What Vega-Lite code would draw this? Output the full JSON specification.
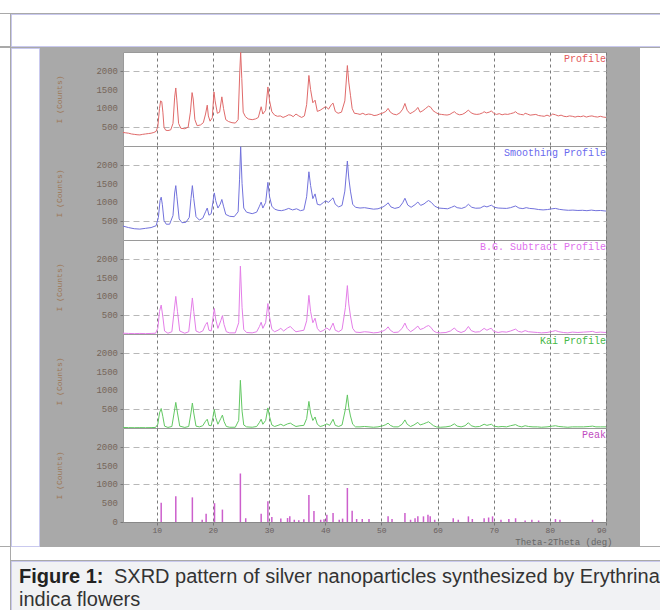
{
  "$schema": "https://vega.github.io/schema/vega-lite/v6.json",
  "background": "#a9a9a9",
  "padding": 0,
  "spacing": 0,
  "config": {
    "view": {"stroke": null},
    "concat": {"spacing": 0},
    "axis": {
      "labelFont": "Liberation Mono", "labelFontSize": 9, "labelColor": "#76665a",
      "titleFont": "Liberation Mono", "titleFontSize": 8, "titleFontWeight": "normal", "titleColor": "#9c7552"
    }
  },
  "datasets": {
    "ticks4": [{"v":500},{"v":1000},{"v":1500},{"v":2000}],
    "ticks5": [{"v":0},{"v":500},{"v":1000},{"v":1500},{"v":2000}],
    "profile": [
      {"t":4.0,"c":360},{"t":4.5,"c":350},{"t":5.0,"c":340},{"t":5.5,"c":320},{"t":6.0,"c":310},{"t":6.5,"c":300},{"t":7.0,"c":295},{"t":7.5,"c":310},{"t":8.0,"c":320},{"t":8.5,"c":330},{"t":9.0,"c":340},{"t":9.5,"c":360},{"t":9.9,"c":390},
      {"t":10.2,"c":520},{"t":10.5,"c":1000},{"t":10.7,"c":1200},{"t":10.9,"c":1180},{"t":11.1,"c":900},{"t":11.3,"c":500},{"t":11.6,"c":420},{"t":12.0,"c":410},{"t":12.5,"c":430},{"t":12.9,"c":600},{"t":13.2,"c":1300},{"t":13.4,"c":1543},{"t":13.6,"c":1200},{"t":13.9,"c":600},{"t":14.3,"c":470},{"t":15.0,"c":460},{"t":15.6,"c":500},{"t":16.0,"c":900},{"t":16.3,"c":1420},{"t":16.5,"c":1250},{"t":16.8,"c":700},{"t":17.2,"c":540},{"t":17.8,"c":560},{"t":18.3,"c":620},{"t":18.7,"c":850},{"t":19.0,"c":1086},{"t":19.2,"c":800},{"t":19.5,"c":660},{"t":19.9,"c":750},
      {"t":20.2,"c":1438},{"t":20.4,"c":1200},{"t":20.8,"c":870},{"t":21.2,"c":900},{"t":21.6,"c":1307},{"t":21.9,"c":1000},{"t":22.3,"c":700},{"t":22.8,"c":650},{"t":23.4,"c":620},{"t":24.0,"c":610},{"t":24.5,"c":700},{"t":24.8,"c":2000},{"t":24.95,"c":2490},{"t":25.15,"c":1800},{"t":25.4,"c":900},{"t":25.8,"c":780},{"t":26.3,"c":720},{"t":27.0,"c":700},{"t":27.6,"c":720},{"t":28.1,"c":760},{"t":28.6,"c":1044},{"t":28.9,"c":850},{"t":29.4,"c":950},{"t":29.8,"c":1570},
      {"t":30.1,"c":1200},{"t":30.5,"c":912},{"t":31.0,"c":820},{"t":31.5,"c":790},{"t":32.0,"c":800},{"t":32.5,"c":760},{"t":33.0,"c":790},{"t":33.5,"c":830},{"t":33.9,"c":820},{"t":34.3,"c":780},{"t":34.8,"c":850},{"t":35.3,"c":800},{"t":35.8,"c":760},{"t":36.3,"c":800},{"t":36.7,"c":1100},{"t":37.1,"c":1876},{"t":37.4,"c":1500},{"t":37.8,"c":1150},{"t":38.2,"c":1218},{"t":38.6,"c":920},{"t":39.1,"c":950},{"t":39.6,"c":1000},
      {"t":40.1,"c":1050},{"t":40.6,"c":980},{"t":41.1,"c":1100},{"t":41.4,"c":1140},{"t":41.8,"c":920},{"t":42.3,"c":870},{"t":42.9,"c":900},{"t":43.5,"c":1200},{"t":43.95,"c":2140},{"t":44.2,"c":1700},{"t":44.5,"c":1350},{"t":44.8,"c":1000},{"t":45.2,"c":870},{"t":45.7,"c":860},{"t":46.2,"c":840},{"t":46.7,"c":870},{"t":47.2,"c":830},{"t":47.7,"c":850},{"t":48.2,"c":840},{"t":48.7,"c":810},{"t":49.2,"c":820},{"t":49.7,"c":850},
      {"t":50.3,"c":880},{"t":50.8,"c":920},{"t":51.2,"c":1000},{"t":51.6,"c":900},{"t":52.1,"c":850},{"t":52.7,"c":830},{"t":53.3,"c":880},{"t":53.8,"c":980},{"t":54.2,"c":1131},{"t":54.6,"c":950},{"t":55.1,"c":860},{"t":55.6,"c":900},{"t":56.1,"c":950},{"t":56.5,"c":1026},{"t":56.9,"c":900},{"t":57.4,"c":940},{"t":57.9,"c":1000},{"t":58.4,"c":1060},{"t":58.8,"c":1030},{"t":59.2,"c":940},{"t":59.7,"c":890},
      {"t":60.2,"c":850},{"t":60.7,"c":840},{"t":61.2,"c":830},{"t":61.7,"c":823},{"t":62.2,"c":840},{"t":62.6,"c":880},{"t":63.0,"c":912},{"t":63.4,"c":860},{"t":63.9,"c":830},{"t":64.4,"c":840},{"t":64.9,"c":880},{"t":65.5,"c":955},{"t":66.0,"c":880},{"t":66.5,"c":850},{"t":67.0,"c":840},{"t":67.5,"c":850},{"t":68.0,"c":880},{"t":68.3,"c":912},{"t":68.7,"c":880},{"t":69.2,"c":900},{"t":69.6,"c":935},
      {"t":70.0,"c":870},{"t":70.5,"c":840},{"t":71.0,"c":860},{"t":71.5,"c":830},{"t":72.0,"c":850},{"t":72.5,"c":840},{"t":73.0,"c":860},{"t":73.5,"c":880},{"t":73.9,"c":912},{"t":74.3,"c":860},{"t":74.8,"c":840},{"t":75.3,"c":830},{"t":75.6,"c":870},{"t":76.0,"c":850},{"t":76.5,"c":820},{"t":77.0,"c":830},{"t":77.5,"c":840},{"t":78.0,"c":810},{"t":78.5,"c":800},{"t":79.0,"c":790},{"t":79.5,"c":820},
      {"t":80.0,"c":790},{"t":80.5,"c":850},{"t":81.0,"c":830},{"t":81.5,"c":800},{"t":82.0,"c":820},{"t":82.5,"c":790},{"t":83.0,"c":780},{"t":83.5,"c":800},{"t":84.0,"c":790},{"t":84.5,"c":770},{"t":85.0,"c":790},{"t":85.5,"c":780},{"t":86.0,"c":800},{"t":86.5,"c":770},{"t":87.0,"c":790},{"t":87.5,"c":800},{"t":88.0,"c":780},{"t":88.5,"c":770},{"t":89.0,"c":790},{"t":89.5,"c":770},{"t":90.0,"c":760}
    ],
    "smooth": [
      {"t":4.0,"c":370},{"t":5.0,"c":330},{"t":6.0,"c":300},{"t":7.0,"c":290},{"t":8.0,"c":310},{"t":9.0,"c":330},{"t":9.9,"c":380},{"t":10.3,"c":600},{"t":10.6,"c":1050},{"t":10.8,"c":1139},{"t":11.0,"c":950},{"t":11.3,"c":520},{"t":11.7,"c":420},{"t":12.3,"c":420},{"t":12.9,"c":650},{"t":13.2,"c":1250},{"t":13.4,"c":1446},{"t":13.6,"c":1150},{"t":14.0,"c":560},{"t":14.5,"c":460},{"t":15.2,"c":470},{"t":15.8,"c":600},{"t":16.1,"c":1100},{"t":16.35,"c":1446},{"t":16.6,"c":1100},{"t":17.0,"c":620},{"t":17.6,"c":530},{"t":18.2,"c":580},{"t":18.7,"c":750},{"t":19.0,"c":850},{"t":19.3,"c":660},{"t":19.7,"c":700},
      {"t":20.0,"c":1000},{"t":20.26,"c":1252},{"t":20.5,"c":1050},{"t":20.9,"c":850},{"t":21.3,"c":950},{"t":21.6,"c":1078},{"t":21.9,"c":900},{"t":22.3,"c":680},{"t":23.0,"c":630},{"t":23.8,"c":620},{"t":24.5,"c":750},{"t":24.75,"c":1600},{"t":24.95,"c":2480},{"t":25.2,"c":1500},{"t":25.5,"c":850},{"t":26.0,"c":740},{"t":27.0,"c":700},{"t":27.8,"c":740},{"t":28.3,"c":900},{"t":28.6,"c":1007},{"t":28.9,"c":850},{"t":29.4,"c":1000},{"t":29.8,"c":1533},
      {"t":30.1,"c":1150},{"t":30.5,"c":900},{"t":31.0,"c":820},{"t":31.6,"c":790},{"t":32.2,"c":780},{"t":32.8,"c":800},{"t":33.5,"c":840},{"t":34.2,"c":800},{"t":34.9,"c":830},{"t":35.6,"c":780},{"t":36.2,"c":800},{"t":36.7,"c":1150},{"t":37.1,"c":1814},{"t":37.4,"c":1450},{"t":37.8,"c":1100},{"t":38.2,"c":1226},{"t":38.6,"c":950},{"t":39.1,"c":930},{"t":39.7,"c":1000},
      {"t":40.1,"c":1040},{"t":40.6,"c":1000},{"t":41.1,"c":1080},{"t":41.4,"c":1120},{"t":41.8,"c":950},{"t":42.4,"c":880},{"t":43.0,"c":920},{"t":43.5,"c":1300},{"t":43.95,"c":2100},{"t":44.2,"c":1650},{"t":44.5,"c":1300},{"t":44.9,"c":950},{"t":45.4,"c":870},{"t":46.2,"c":850},{"t":47.0,"c":860},{"t":47.8,"c":840},{"t":48.6,"c":820},{"t":49.4,"c":830},
      {"t":50.3,"c":880},{"t":50.8,"c":930},{"t":51.2,"c":990},{"t":51.7,"c":880},{"t":52.4,"c":840},{"t":53.2,"c":870},{"t":53.8,"c":990},{"t":54.2,"c":1110},{"t":54.7,"c":930},{"t":55.3,"c":870},{"t":56.0,"c":940},{"t":56.5,"c":1010},{"t":57.0,"c":920},{"t":57.6,"c":960},{"t":58.1,"c":1020},{"t":58.4,"c":1050},{"t":58.9,"c":1000},{"t":59.5,"c":900},
      {"t":60.2,"c":850},{"t":61.0,"c":840},{"t":61.8,"c":830},{"t":62.5,"c":870},{"t":63.0,"c":905},{"t":63.5,"c":860},{"t":64.3,"c":840},{"t":65.0,"c":880},{"t":65.5,"c":950},{"t":66.1,"c":870},{"t":66.8,"c":845},{"t":67.6,"c":850},{"t":68.3,"c":905},{"t":68.8,"c":880},{"t":69.3,"c":910},{"t":69.6,"c":925},
      {"t":70.1,"c":870},{"t":70.8,"c":850},{"t":71.5,"c":845},{"t":72.3,"c":840},{"t":73.0,"c":860},{"t":73.9,"c":905},{"t":74.5,"c":850},{"t":75.2,"c":835},{"t":75.8,"c":860},{"t":76.4,"c":840},{"t":77.2,"c":830},{"t":78.0,"c":810},{"t":78.8,"c":800},{"t":79.6,"c":810},
      {"t":80.4,"c":830},{"t":81.0,"c":840},{"t":81.7,"c":815},{"t":82.5,"c":800},{"t":83.3,"c":790},{"t":84.1,"c":795},{"t":85.0,"c":785},{"t":85.8,"c":790},{"t":86.6,"c":780},{"t":87.4,"c":795},{"t":88.2,"c":780},{"t":89.0,"c":785},{"t":90.0,"c":770}
    ],
    "bg": [
      {"t":4.0,"c":20},{"t":5.0,"c":15},{"t":6.0,"c":10},{"t":7.0,"c":15},{"t":8.0,"c":10},{"t":9.0,"c":15},{"t":9.8,"c":20},{"t":10.2,"c":150},{"t":10.5,"c":600},{"t":10.8,"c":770},{"t":11.1,"c":450},{"t":11.4,"c":80},{"t":12.0,"c":20},{"t":12.7,"c":60},{"t":13.1,"c":600},{"t":13.4,"c":1000},{"t":13.7,"c":600},{"t":14.1,"c":80},{"t":15.0,"c":20},{"t":15.7,"c":60},{"t":16.1,"c":600},{"t":16.35,"c":958},{"t":16.6,"c":600},{"t":17.0,"c":80},{"t":17.6,"c":40},{"t":18.2,"c":80},{"t":18.7,"c":250},{"t":19.0,"c":310},{"t":19.3,"c":100},{"t":19.7,"c":80},
      {"t":20.0,"c":400},{"t":20.26,"c":680},{"t":20.5,"c":400},{"t":20.9,"c":150},{"t":21.4,"c":350},{"t":21.7,"c":490},{"t":22.0,"c":250},{"t":22.4,"c":60},{"t":23.0,"c":30},{"t":24.0,"c":30},{"t":24.6,"c":300},{"t":24.9,"c":1805},{"t":25.2,"c":700},{"t":25.5,"c":120},{"t":26.0,"c":40},{"t":27.0,"c":30},{"t":27.8,"c":60},{"t":28.3,"c":200},{"t":28.6,"c":310},{"t":28.9,"c":150},{"t":29.4,"c":300},{"t":29.8,"c":810},
      {"t":30.1,"c":450},{"t":30.5,"c":120},{"t":31.0,"c":60},{"t":31.6,"c":100},{"t":32.1,"c":150},{"t":32.6,"c":80},{"t":33.3,"c":160},{"t":33.8,"c":200},{"t":34.3,"c":120},{"t":34.8,"c":60},{"t":35.5,"c":80},{"t":36.2,"c":100},{"t":36.7,"c":350},{"t":37.1,"c":1028},{"t":37.4,"c":600},{"t":37.8,"c":300},{"t":38.2,"c":420},{"t":38.6,"c":150},{"t":39.1,"c":60},{"t":39.6,"c":90},
      {"t":40.3,"c":160},{"t":40.8,"c":100},{"t":41.4,"c":290},{"t":41.8,"c":100},{"t":42.4,"c":60},{"t":43.0,"c":120},{"t":43.6,"c":700},{"t":43.95,"c":1287},{"t":44.2,"c":800},{"t":44.5,"c":480},{"t":44.9,"c":150},{"t":45.4,"c":50},{"t":46.2,"c":40},{"t":47.0,"c":60},{"t":47.8,"c":50},{"t":48.6,"c":30},{"t":49.4,"c":40},
      {"t":50.3,"c":80},{"t":50.8,"c":120},{"t":51.2,"c":190},{"t":51.6,"c":100},{"t":52.2,"c":40},{"t":53.0,"c":50},{"t":53.7,"c":150},{"t":54.2,"c":290},{"t":54.6,"c":150},{"t":55.2,"c":60},{"t":55.8,"c":120},{"t":56.5,"c":210},{"t":56.9,"c":120},{"t":57.5,"c":150},{"t":58.0,"c":200},{"t":58.4,"c":225},{"t":58.8,"c":180},{"t":59.3,"c":80},{"t":59.8,"c":40},
      {"t":60.5,"c":30},{"t":61.5,"c":40},{"t":62.3,"c":80},{"t":63.0,"c":160},{"t":63.5,"c":80},{"t":64.2,"c":40},{"t":64.9,"c":80},{"t":65.5,"c":200},{"t":66.0,"c":90},{"t":66.7,"c":50},{"t":67.5,"c":60},{"t":68.3,"c":150},{"t":68.8,"c":100},{"t":69.3,"c":140},{"t":69.6,"c":150},
      {"t":70.0,"c":70},{"t":70.8,"c":40},{"t":71.5,"c":60},{"t":72.3,"c":50},{"t":73.0,"c":80},{"t":73.9,"c":130},{"t":74.4,"c":70},{"t":75.0,"c":50},{"t":75.6,"c":90},{"t":76.2,"c":60},{"t":77.0,"c":50},{"t":77.8,"c":40},{"t":78.5,"c":30},{"t":79.5,"c":40},
      {"t":80.5,"c":70},{"t":81.0,"c":90},{"t":81.6,"c":60},{"t":82.4,"c":40},{"t":83.2,"c":30},{"t":84.0,"c":50},{"t":85.0,"c":40},{"t":86.0,"c":50},{"t":87.0,"c":60},{"t":87.6,"c":70},{"t":88.2,"c":40},{"t":89.0,"c":50},{"t":90.0,"c":40}
    ],
    "kai": [
      {"t":4.0,"c":15},{"t":5.0,"c":10},{"t":6.0,"c":8},{"t":7.0,"c":10},{"t":8.0,"c":8},{"t":9.0,"c":10},{"t":9.8,"c":15},{"t":10.2,"c":100},{"t":10.5,"c":400},{"t":10.8,"c":518},{"t":11.1,"c":300},{"t":11.4,"c":50},{"t":12.0,"c":15},{"t":12.7,"c":40},{"t":13.1,"c":400},{"t":13.4,"c":681},{"t":13.7,"c":400},{"t":14.1,"c":50},{"t":15.0,"c":15},{"t":15.7,"c":40},{"t":16.1,"c":400},{"t":16.35,"c":663},{"t":16.6,"c":400},{"t":17.0,"c":50},{"t":17.6,"c":30},{"t":18.2,"c":60},{"t":18.7,"c":180},{"t":19.0,"c":233},{"t":19.3,"c":70},{"t":19.7,"c":60},
      {"t":20.0,"c":280},{"t":20.26,"c":492},{"t":20.5,"c":280},{"t":20.9,"c":100},{"t":21.4,"c":250},{"t":21.7,"c":344},{"t":22.0,"c":170},{"t":22.4,"c":40},{"t":23.0,"c":20},{"t":24.0,"c":20},{"t":24.6,"c":200},{"t":24.9,"c":1269},{"t":25.2,"c":450},{"t":25.5,"c":80},{"t":26.0,"c":30},{"t":27.0,"c":20},{"t":27.8,"c":40},{"t":28.3,"c":150},{"t":28.6,"c":233},{"t":28.9,"c":100},{"t":29.4,"c":200},{"t":29.8,"c":534},
      {"t":30.1,"c":300},{"t":30.5,"c":80},{"t":31.0,"c":40},{"t":31.6,"c":70},{"t":32.1,"c":100},{"t":32.6,"c":60},{"t":33.3,"c":110},{"t":33.8,"c":130},{"t":34.3,"c":80},{"t":34.8,"c":40},{"t":35.5,"c":60},{"t":36.2,"c":70},{"t":36.7,"c":250},{"t":37.1,"c":707},{"t":37.4,"c":400},{"t":37.8,"c":200},{"t":38.2,"c":293},{"t":38.6,"c":100},{"t":39.1,"c":40},{"t":39.6,"c":60},
      {"t":40.3,"c":110},{"t":40.8,"c":70},{"t":41.4,"c":233},{"t":41.8,"c":70},{"t":42.4,"c":40},{"t":43.0,"c":80},{"t":43.6,"c":500},{"t":43.95,"c":880},{"t":44.2,"c":550},{"t":44.5,"c":320},{"t":44.9,"c":100},{"t":45.4,"c":30},{"t":46.2,"c":30},{"t":47.0,"c":40},{"t":47.8,"c":30},{"t":48.6,"c":20},{"t":49.4,"c":30},
      {"t":50.3,"c":60},{"t":50.8,"c":90},{"t":51.2,"c":130},{"t":51.6,"c":70},{"t":52.2,"c":30},{"t":53.0,"c":30},{"t":53.7,"c":100},{"t":54.2,"c":215},{"t":54.6,"c":100},{"t":55.2,"c":40},{"t":55.8,"c":80},{"t":56.5,"c":150},{"t":56.9,"c":80},{"t":57.5,"c":110},{"t":58.0,"c":140},{"t":58.4,"c":165},{"t":58.8,"c":120},{"t":59.3,"c":60},{"t":59.8,"c":30},
      {"t":60.5,"c":20},{"t":61.5,"c":30},{"t":62.3,"c":50},{"t":63.0,"c":110},{"t":63.5,"c":50},{"t":64.2,"c":30},{"t":64.9,"c":60},{"t":65.5,"c":140},{"t":66.0,"c":60},{"t":66.7,"c":30},{"t":67.5,"c":40},{"t":68.3,"c":100},{"t":68.8,"c":70},{"t":69.3,"c":90},{"t":69.6,"c":100},
      {"t":70.0,"c":50},{"t":70.8,"c":30},{"t":71.5,"c":40},{"t":72.3,"c":30},{"t":73.0,"c":60},{"t":73.9,"c":90},{"t":74.4,"c":50},{"t":75.0,"c":30},{"t":75.6,"c":60},{"t":76.2,"c":40},{"t":77.0,"c":30},{"t":77.8,"c":30},{"t":78.5,"c":20},{"t":79.5,"c":30},
      {"t":80.5,"c":50},{"t":81.0,"c":60},{"t":81.6,"c":40},{"t":82.4,"c":30},{"t":83.2,"c":20},{"t":84.0,"c":30},{"t":85.0,"c":30},{"t":86.0,"c":30},{"t":87.0,"c":40},{"t":87.6,"c":50},{"t":88.2,"c":30},{"t":89.0,"c":30},{"t":90.0,"c":30}
    ],
    "peaks": [
      {"t":10.8,"c":510},{"t":13.4,"c":685},{"t":16.35,"c":655},{"t":18.1,"c":60},{"t":18.8,"c":220},{"t":20.3,"c":500},{"t":21.7,"c":330},{"t":24.9,"c":1290},{"t":25.85,"c":100},{"t":28.6,"c":220},{"t":29.8,"c":550},{"t":30.5,"c":130},{"t":32.1,"c":90},{"t":33.3,"c":105},{"t":33.7,"c":150},{"t":34.5,"c":60},{"t":35.3,"c":45},{"t":36.2,"c":70},{"t":37.1,"c":720},{"t":38.0,"c":290},{"t":39.2,"c":60},{"t":39.8,"c":70},{"t":40.3,"c":190},{"t":41.4,"c":240},{"t":42.5,"c":60},{"t":43.1,"c":90},{"t":43.95,"c":905},{"t":44.8,"c":300},{"t":45.6,"c":80},{"t":46.6,"c":80},{"t":47.8,"c":80},{"t":51.2,"c":150},{"t":51.9,"c":80},{"t":54.2,"c":240},{"t":55.2,"c":60},{"t":56.0,"c":100},{"t":56.5,"c":150},{"t":57.5,"c":150},{"t":58.3,"c":190},{"t":58.7,"c":150},{"t":59.5,"c":60},{"t":62.8,"c":100},{"t":63.7,"c":60},{"t":65.5,"c":150},{"t":66.2,"c":80},{"t":68.3,"c":100},{"t":69.1,"c":120},{"t":69.8,"c":150},{"t":71.3,"c":60},{"t":72.7,"c":80},{"t":73.9,"c":100},{"t":75.6,"c":40},{"t":76.8,"c":60},{"t":78.0,"c":40},{"t":81.0,"c":80},{"t":81.8,"c":60},{"t":87.6,"c":60}
    ]
  },
  "vconcat": [
    {"width": 660, "height": 13, "data": {"values": [{}]}, "mark": {"type": "point", "opacity": 0}, "view": {"fill": "white"}},
    {"hconcat": [
      {"width": 10, "height": 32, "data": {"values": [{}]}, "mark": {"type": "point", "opacity": 0}, "view": {"fill": "white"}},
      {"width": 650, "height": 32, "data": {"values": [{}]}, "mark": {"type": "point", "opacity": 0}, "view": {"fill": "white", "stroke": "#c9c9ee"}}
    ], "spacing": 0},
    {"hconcat": [
      {"width": 10, "height": 498, "data": {"values": [{}]}, "mark": {"type": "point", "opacity": 0}, "view": {"fill": "white"}},
      {"width": 28, "height": 498, "data": {"values": [{}]}, "mark": {"type": "point", "opacity": 0}, "view": {"fill": "white", "stroke": "#c9c9ee"}},
      {"width": 14, "height": 498, "data": {"values": [{}]}, "mark": {"type": "point", "opacity": 0}},
      {"vconcat": [
        {"width": 483, "height": 4, "data": {"values": [{}]}, "mark": {"type": "point", "opacity": 0}},
        {"width": 483, "height": 94, "view": {"fill": "white", "stroke": "#9a9a9a"},
         "layer": [
          {"data": {"name": "profile"}, "mark": {"type": "line", "color": "#e06a6a", "strokeWidth": 1, "clip": true},
           "encoding": {
             "x": {"field": "t", "type": "quantitative", "scale": {"domain": [4, 90], "nice": false, "zero": false},
                   "axis": {"values": [10,20,30,40,50,60,70,80,90], "labels": false, "ticks": false, "domain": false, "title": null, "grid": true, "gridColor": "#7a7a7a", "gridDash": [3,3]}},
             "y": {"field": "c", "type": "quantitative", "scale": {"domain": [0, 2500], "nice": false},
                   "axis": {"values": [500,1000,1500,2000], "labels": false, "title": "I (Counts)", "grid": true, "gridColor": "#b8b8b8", "gridDash": [6,4], "domain": false, "tickSize": 3, "tickColor": "#777", "minExtent": 30, "maxExtent": 30, "titlePadding": 30}}
           }},
          {"data": {"name": "ticks4"}, "mark": {"type": "text", "align": "right", "baseline": "middle", "dx": -5, "font": "Liberation Mono", "fontSize": 9, "color": "#76665a"},
           "encoding": {"x": {"datum": 4, "type": "quantitative"}, "y": {"field": "v", "type": "quantitative"}, "text": {"field": "v", "type": "quantitative", "format": "d"}}},
          {"data": {"values": [{"label": "Profile"}]}, "mark": {"type": "text", "align": "right", "baseline": "top", "dy": 2, "font": "Liberation Mono", "fontSize": 10, "color": "#e35a5a"},
           "encoding": {"x": {"datum": 90, "type": "quantitative"}, "y": {"datum": 2500, "type": "quantitative"}, "text": {"field": "label"}}}
         ]},
        {"width": 483, "height": 94, "view": {"fill": "white", "stroke": "#9a9a9a"},
         "layer": [
          {"data": {"name": "smooth"}, "mark": {"type": "line", "color": "#7272dc", "strokeWidth": 1, "clip": true},
           "encoding": {
             "x": {"field": "t", "type": "quantitative", "scale": {"domain": [4, 90], "nice": false, "zero": false},
                   "axis": {"values": [10,20,30,40,50,60,70,80,90], "labels": false, "ticks": false, "domain": false, "title": null, "grid": true, "gridColor": "#7a7a7a", "gridDash": [3,3]}},
             "y": {"field": "c", "type": "quantitative", "scale": {"domain": [0, 2500], "nice": false},
                   "axis": {"values": [500,1000,1500,2000], "labels": false, "title": "I (Counts)", "grid": true, "gridColor": "#b8b8b8", "gridDash": [6,4], "domain": false, "tickSize": 3, "tickColor": "#777", "minExtent": 30, "maxExtent": 30, "titlePadding": 30}}
           }},
          {"data": {"name": "ticks4"}, "mark": {"type": "text", "align": "right", "baseline": "middle", "dx": -5, "font": "Liberation Mono", "fontSize": 9, "color": "#76665a"},
           "encoding": {"x": {"datum": 4, "type": "quantitative"}, "y": {"field": "v", "type": "quantitative"}, "text": {"field": "v", "type": "quantitative", "format": "d"}}},
          {"data": {"values": [{"label": "Smoothing Profile"}]}, "mark": {"type": "text", "align": "right", "baseline": "top", "dy": 2, "font": "Liberation Mono", "fontSize": 10, "color": "#6a6aee"},
           "encoding": {"x": {"datum": 90, "type": "quantitative"}, "y": {"datum": 2500, "type": "quantitative"}, "text": {"field": "label"}}}
         ]},
        {"width": 483, "height": 94, "view": {"fill": "white", "stroke": "#9a9a9a"},
         "layer": [
          {"data": {"name": "bg"}, "mark": {"type": "line", "color": "#e47ee8", "strokeWidth": 1, "clip": true},
           "encoding": {
             "x": {"field": "t", "type": "quantitative", "scale": {"domain": [4, 90], "nice": false, "zero": false},
                   "axis": {"values": [10,20,30,40,50,60,70,80,90], "labels": false, "ticks": false, "domain": false, "title": null, "grid": true, "gridColor": "#7a7a7a", "gridDash": [3,3]}},
             "y": {"field": "c", "type": "quantitative", "scale": {"domain": [0, 2500], "nice": false},
                   "axis": {"values": [500,1000,1500,2000], "labels": false, "title": "I (Counts)", "grid": true, "gridColor": "#b8b8b8", "gridDash": [6,4], "domain": false, "tickSize": 3, "tickColor": "#777", "minExtent": 30, "maxExtent": 30, "titlePadding": 30}}
           }},
          {"data": {"name": "ticks4"}, "mark": {"type": "text", "align": "right", "baseline": "middle", "dx": -5, "font": "Liberation Mono", "fontSize": 9, "color": "#76665a"},
           "encoding": {"x": {"datum": 4, "type": "quantitative"}, "y": {"field": "v", "type": "quantitative"}, "text": {"field": "v", "type": "quantitative", "format": "d"}}},
          {"data": {"values": [{"label": "B.G. Subtract Profile"}]}, "mark": {"type": "text", "align": "right", "baseline": "top", "dy": 2, "font": "Liberation Mono", "fontSize": 10, "color": "#e070ee"},
           "encoding": {"x": {"datum": 90, "type": "quantitative"}, "y": {"datum": 2500, "type": "quantitative"}, "text": {"field": "label"}}}
         ]},
        {"width": 483, "height": 94, "view": {"fill": "white", "stroke": "#9a9a9a"},
         "layer": [
          {"data": {"name": "kai"}, "mark": {"type": "line", "color": "#62c862", "strokeWidth": 1, "clip": true},
           "encoding": {
             "x": {"field": "t", "type": "quantitative", "scale": {"domain": [4, 90], "nice": false, "zero": false},
                   "axis": {"values": [10,20,30,40,50,60,70,80,90], "labels": false, "ticks": false, "domain": false, "title": null, "grid": true, "gridColor": "#7a7a7a", "gridDash": [3,3]}},
             "y": {"field": "c", "type": "quantitative", "scale": {"domain": [0, 2500], "nice": false},
                   "axis": {"values": [500,1000,1500,2000], "labels": false, "title": "I (Counts)", "grid": true, "gridColor": "#b8b8b8", "gridDash": [6,4], "domain": false, "tickSize": 3, "tickColor": "#777", "minExtent": 30, "maxExtent": 30, "titlePadding": 30}}
           }},
          {"data": {"name": "ticks4"}, "mark": {"type": "text", "align": "right", "baseline": "middle", "dx": -5, "font": "Liberation Mono", "fontSize": 9, "color": "#76665a"},
           "encoding": {"x": {"datum": 4, "type": "quantitative"}, "y": {"field": "v", "type": "quantitative"}, "text": {"field": "v", "type": "quantitative", "format": "d"}}},
          {"data": {"values": [{"label": "Kai Profile"}]}, "mark": {"type": "text", "align": "right", "baseline": "top", "dy": 2, "font": "Liberation Mono", "fontSize": 10, "color": "#46b846"},
           "encoding": {"x": {"datum": 90, "type": "quantitative"}, "y": {"datum": 2500, "type": "quantitative"}, "text": {"field": "label"}}}
         ]},
        {"width": 483, "height": 94, "view": {"fill": "white", "stroke": "#9a9a9a"},
         "layer": [
          {"data": {"name": "peaks"}, "mark": {"type": "rule", "color": "#cc5fcc", "strokeWidth": 1.5, "clip": true},
           "encoding": {
             "x": {"field": "t", "type": "quantitative", "scale": {"domain": [4, 90], "nice": false, "zero": false},
                   "axis": {"values": [10,20,30,40,50,60,70,80,90], "title": "Theta-2Theta (deg)", "titleX": 489, "titleY": 15, "titleAlign": "right", "titleBaseline": "top", "titleColor": "#666", "titleFontSize": 9, "labelPadding": 1, "labelFontSize": 8, "labelColor": "#6a6060", "tickSize": 3, "tickColor": "#777", "domain": true, "domainColor": "#888", "grid": true, "gridColor": "#7a7a7a", "gridDash": [3,3]}},
             "y": {"field": "c", "type": "quantitative", "scale": {"domain": [0, 2500], "nice": false},
                   "axis": {"values": [0,500,1000,1500,2000], "labels": false, "title": "I (Counts)", "grid": true, "gridColor": "#b8b8b8", "gridDash": [6,4], "domain": false, "tickSize": 3, "tickColor": "#777", "minExtent": 30, "maxExtent": 30, "titlePadding": 30}},
             "y2": {"datum": 0}
           }},
          {"data": {"name": "ticks5"}, "mark": {"type": "text", "align": "right", "baseline": "middle", "dx": -5, "font": "Liberation Mono", "fontSize": 9, "color": "#76665a"},
           "encoding": {"x": {"datum": 4, "type": "quantitative"}, "y": {"field": "v", "type": "quantitative"}, "text": {"field": "v", "type": "quantitative", "format": "d"}}},
          {"data": {"values": [{"label": "Peak"}]}, "mark": {"type": "text", "align": "right", "baseline": "top", "dy": 2, "font": "Liberation Mono", "fontSize": 10, "color": "#c04cc0"},
           "encoding": {"x": {"datum": 90, "type": "quantitative"}, "y": {"datum": 2500, "type": "quantitative"}, "text": {"field": "label"}}}
         ]}
      ], "spacing": 0, "bounds": "flush"},
      {"width": 27, "height": 498, "data": {"values": [{}]}, "mark": {"type": "point", "opacity": 0}},
      {"width": 20, "height": 498, "data": {"values": [{}]}, "mark": {"type": "point", "opacity": 0}, "view": {"fill": "white"}}
    ], "spacing": 0},
    {"hconcat": [
      {"width": 10, "height": 67, "data": {"values": [{}]}, "mark": {"type": "point", "opacity": 0}, "view": {"fill": "white"}},
      {"vconcat": [
        {"width": 650, "height": 13, "data": {"values": [{}]}, "mark": {"type": "point", "opacity": 0}, "view": {"fill": "white"}},
        {"width": 650, "height": 54, "view": {"fill": "#f1f2f4", "stroke": "#c9c9ee"},
         "layer": [
          {"data": {"values": [{"txt": "Figure 1:"}]}, "mark": {"type": "text", "align": "left", "baseline": "middle", "font": "Liberation Sans", "fontSize": 20, "fontWeight": "bold", "color": "#222"},
           "encoding": {"x": {"value": 8}, "y": {"value": 16}, "text": {"field": "txt"}}},
          {"data": {"values": [{"txt": "SXRD pattern of silver nanoparticles synthesized by Erythrina"}]}, "mark": {"type": "text", "align": "left", "baseline": "middle", "font": "Liberation Sans", "fontSize": 20, "color": "#333"},
           "encoding": {"x": {"value": 103}, "y": {"value": 16}, "text": {"field": "txt"}}},
          {"data": {"values": [{"txt": "indica flowers"}]}, "mark": {"type": "text", "align": "left", "baseline": "middle", "font": "Liberation Sans", "fontSize": 20, "color": "#333"},
           "encoding": {"x": {"value": 8}, "y": {"value": 39}, "text": {"field": "txt"}}}
         ]}
      ], "spacing": 0}
    ], "spacing": 0}
  ]
}
